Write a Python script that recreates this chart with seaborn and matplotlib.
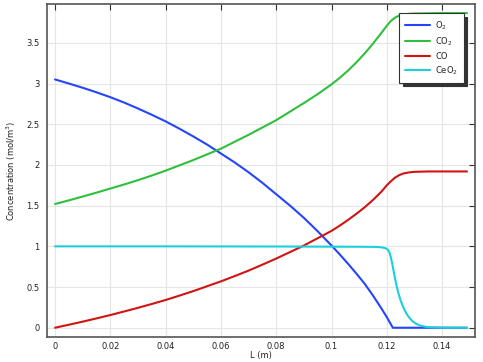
import numpy as np
import pandas as pd
import matplotlib
matplotlib.use("Agg")
import matplotlib.pyplot as plt
import seaborn as sns

# Data
L_o2 = [0, 0.005, 0.01, 0.015, 0.02, 0.025, 0.03, 0.035, 0.04, 0.045, 0.05, 0.055, 0.06, 0.065, 0.07,
        0.075, 0.08, 0.085, 0.09, 0.095, 0.1, 0.103, 0.106, 0.109, 0.112, 0.115, 0.118, 0.12, 0.1215, 0.1222,
        0.13, 0.14, 0.149]
O2 = [3.05, 3.0, 2.948, 2.892, 2.832, 2.766, 2.693, 2.616, 2.535, 2.445, 2.35, 2.25, 2.14, 2.03, 1.91,
      1.78, 1.64, 1.5, 1.35, 1.185, 1.01, 0.9, 0.785, 0.665, 0.54, 0.395, 0.24, 0.13, 0.04, 0.0,
      0.0, 0.0, 0.0]

L_co2 = [0, 0.005, 0.01, 0.015, 0.02, 0.025, 0.03, 0.035, 0.04, 0.045, 0.05, 0.055, 0.06, 0.065, 0.07,
         0.075, 0.08, 0.085, 0.09, 0.095, 0.1, 0.103, 0.106, 0.109, 0.112, 0.115, 0.118, 0.12, 0.1215,
         0.123, 0.1245, 0.126, 0.128, 0.13, 0.135, 0.14, 0.149]
CO2 = [1.52, 1.565, 1.612, 1.66, 1.71, 1.76, 1.813, 1.87, 1.93, 1.995, 2.06, 2.13, 2.2, 2.285, 2.37,
       2.46, 2.55, 2.655, 2.76, 2.87, 2.99, 3.07, 3.16, 3.26, 3.37, 3.49, 3.62, 3.71, 3.77,
       3.81, 3.835, 3.848, 3.856, 3.86, 3.863, 3.865, 3.865]

L_co = [0, 0.005, 0.01, 0.015, 0.02, 0.025, 0.03, 0.035, 0.04, 0.045, 0.05, 0.055, 0.06, 0.065, 0.07,
        0.075, 0.08, 0.085, 0.09, 0.095, 0.1, 0.103, 0.106, 0.109, 0.112, 0.115, 0.118, 0.12, 0.1215,
        0.123, 0.1245, 0.126, 0.128, 0.13, 0.135, 0.14, 0.149]
CO = [0.0, 0.037, 0.075, 0.115, 0.156, 0.2, 0.245, 0.292, 0.341, 0.395, 0.45, 0.51, 0.57, 0.635, 0.702,
      0.775, 0.85, 0.93, 1.01, 1.1, 1.19, 1.255, 1.325, 1.4, 1.48, 1.57, 1.67, 1.75, 1.8,
      1.845, 1.875, 1.895, 1.908, 1.915, 1.92, 1.92, 1.92]

L_ceo2 = [0, 0.02, 0.04, 0.06, 0.08, 0.1, 0.11, 0.116, 0.118, 0.1195, 0.1205, 0.121, 0.1215, 0.122,
          0.1225, 0.123, 0.1235, 0.124, 0.1245, 0.125, 0.126, 0.127, 0.128, 0.129, 0.13, 0.131, 0.132,
          0.134, 0.136, 0.14, 0.149]
CeO2 = [1.0, 1.0, 1.0, 0.999, 0.998, 0.996, 0.995, 0.993, 0.988, 0.978, 0.955, 0.92, 0.86, 0.78,
        0.69, 0.6, 0.52, 0.45, 0.39, 0.335, 0.25, 0.18, 0.13, 0.09, 0.062, 0.042, 0.028,
        0.012, 0.005, 0.001, 0.0]

series = ["O$_2$", "CO$_2$", "CO", "CeO$_2$"]
colors = ["#2444ff", "#2fbf3d", "#d01414", "#1cd0da"]

frames = []
for name, xs, ys in zip(series, [L_o2, L_co2, L_co, L_ceo2], [O2, CO2, CO, CeO2]):
    frames.append(pd.DataFrame({"L": xs, "c": ys, "species": name}))
df = pd.concat(frames, ignore_index=True)

sns.set_theme(style="white")
plt.rcParams["font.family"] = ["DejaVu Sans"]

fig = plt.figure(figsize=(4.83, 3.62), dpi=100)
ax = fig.add_axes([46.5 / 483, 1 - 336.7 / 362, (475 - 46.5) / 483, (336.7 - 4) / 362])

sns.lineplot(data=df, x="L", y="c", hue="species", hue_order=series,
             palette=colors, linewidth=1.5, ax=ax, sort=False, estimator=None)

ax.set_xlim(-0.0031, 0.1519)
ax.set_ylim(-0.11, 3.977)
ax.set_xticks([0, 0.02, 0.04, 0.06, 0.08, 0.1, 0.12, 0.14])
ax.set_xticklabels(["0", "0.02", "0.04", "0.06", "0.08", "0.1", "0.12", "0.14"])
ax.set_yticks([0, 0.5, 1, 1.5, 2, 2.5, 3, 3.5])
ax.set_yticklabels(["0", "0.5", "1", "1.5", "2", "2.5", "3", "3.5"])
ax.grid(True, color="#e6e6e6", linewidth=0.8)
ax.set_axisbelow(True)
for s in ax.spines.values():
    s.set_color("#555555")
    s.set_linewidth(1.2)
ax.tick_params(direction="in", length=4, width=0.8, color="#333333",
               top=True, right=True, labelsize=6, labelcolor="#222222")
ax.tick_params(axis="x", pad=4)
ax.tick_params(axis="y", pad=5)
ax.set_xlabel("L (m)", fontsize=6, labelpad=0, color="#222222")
ax.set_ylabel("Concentration (mol/m$^3$)", fontsize=6, labelpad=6, color="#222222")

leg = ax.legend(loc="upper right", bbox_to_anchor=(0.974, 0.972), borderaxespad=0, fontsize=6,
                frameon=True, fancybox=False,
                shadow={"color": "#333333", "alpha": 1.0, "ox": 2.5, "oy": -2.5},
                handlelength=3.0, borderpad=0.7, labelspacing=0.45, handletextpad=0.6)
leg.get_frame().set_edgecolor("#333333")
leg.get_frame().set_linewidth(0.8)
leg.set_title(None)

fig.savefig("out.png", dpi=100)
